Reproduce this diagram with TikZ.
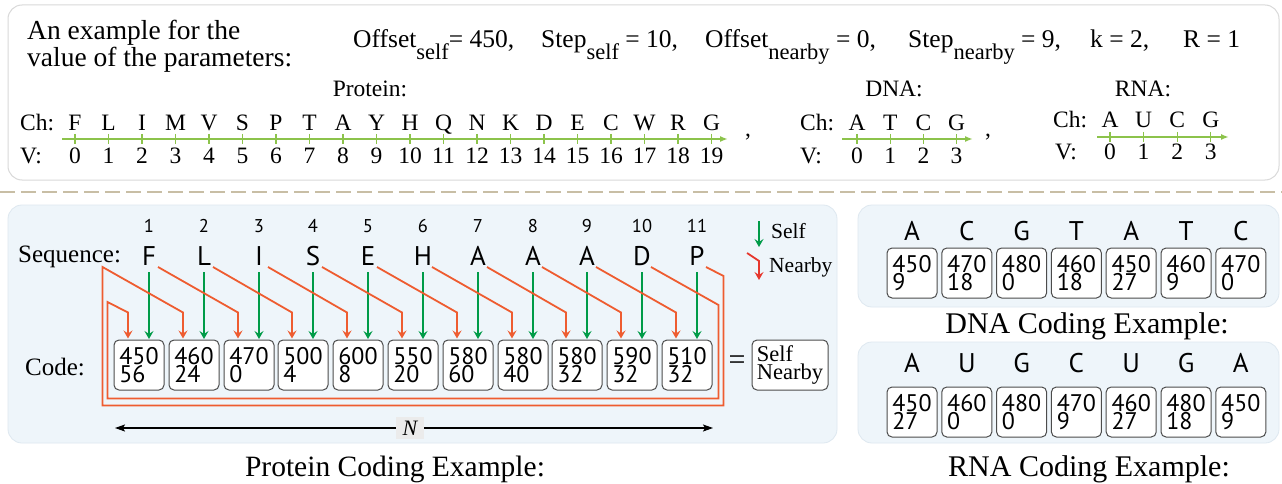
\documentclass[tikz,border=0pt]{standalone}
\usepackage{fontspec}
\setmainfont{Liberation Serif}
\setsansfont{PT Sans}
\usetikzlibrary{arrows.meta,calc}
\newcommand{\myfs}[1]{\fontsize{#1}{#1}\selectfont}
\newcommand{\subt}[1]{\raisebox{-12pt}{\myfs{22.5}#1}}
\definecolor{orng}{RGB}{238,92,48}
\definecolor{grn}{RGB}{0,155,72}
\definecolor{lgrn}{RGB}{140,195,75}
\definecolor{lred}{RGB}{230,55,45}
\definecolor{panelblue}{RGB}{238,245,250}
\definecolor{panelline}{RGB}{222,232,240}
\definecolor{tanc}{RGB}{200,190,165}
\begin{document}
\begin{tikzpicture}[x=1pt,y=-1pt,
  txt/.style={anchor=base west, inner sep=0pt},
  ctxt/.style={anchor=base, inner sep=0pt},
  axisline/.style={draw=lgrn, line width=1.6pt, -{Latex[length=8pt,width=6pt]}},
  tickline/.style={draw=lgrn, line width=1.1pt},
  codebox/.style={draw=black!70, line width=1pt, rounded corners=5pt, fill=white,
    minimum width=50pt, minimum height=50pt, inner sep=0pt, align=left,
    font={\sffamily\fontsize{24}{18.5}\selectfont}},
  snbox/.style={draw=black!70, line width=1pt, rounded corners=5pt, fill=white,
    minimum width=76pt, minimum height=50pt, inner sep=0pt, align=left,
    font={\fontsize{22.5}{18}\selectfont}},
  selfarr/.style={draw=grn, line width=1.8pt, -{Stealth[length=8pt,width=9pt,inset=3pt]}},
  nbarr/.style={draw=orng, line width=1.8pt, -{Stealth[length=8pt,width=9pt,inset=3pt]}},
  redarr/.style={draw=lred, line width=1.8pt, -{Stealth[length=8pt,width=9pt,inset=3pt]}},
  panel/.style={fill=panelblue, draw=panelline, line width=0.8pt, rounded corners=14pt},
  seqfont/.style={font={\sffamily\myfs{27}}},
]
\useasboundingbox (0,0) rectangle (1282,484);
\fill[white] (0,0) rectangle (1282,484);

% ---------- top panel ----------
\draw[draw=black!15, line width=1pt, fill=white, rounded corners=14pt] (8,5) rectangle (1279,180);
\node[txt] (t1) at (27,40) {\myfs{27.5}An example for the};
\node[txt] (t2) at (27,67) {\myfs{27.5}value of the parameters:};

\node[txt] (p1) at (353,48) {\myfs{25.5}Offset\subt{self}= 450,};
\node[txt] (p2) at (541,48) {\myfs{25.5}Step\subt{self} = 10,};
\node[txt] (p3) at (705,48) {\myfs{25.5}Offset\subt{nearby} = 0,};
\node[txt] (p4) at (908,48) {\myfs{25.5}Step\subt{nearby} = 9,};
\node[txt] (p5) at (1090,48) {\myfs{25.5}k = 2,};
\node[txt] (p6) at (1183,48) {\myfs{25.5}R = 1};

% protein alphabet
\node[ctxt] (protl) at (370,97) {\myfs{23.5}Protein:};
\node[txt] (chP) at (20,131) {\myfs{23.5}Ch:};
\node[txt] (vP) at (20,163) {\myfs{23.5}V:};
\coordinate (pa0) at (62,139);
\coordinate (pa1) at (728,139);
\draw[axisline] (pa0) -- (pa1);
\foreach \c [count=\k from 0] in {F,L,I,M,V,S,P,T,A,Y,H,Q,N,K,D,E,C,W,R,G} {
  \node[ctxt, font={\myfs{23.5}}] (pc\k) at ({75+33.5*\k},131) {\c};
  \node[ctxt, font={\myfs{23.5}}] (pv\k) at ({75+33.5*\k},163) {\k};
  \draw[tickline] ($(pv\k |- pa0)+(0,-5)$) -- ($(pv\k |- pa0)+(0,5)$);
}
\node[ctxt] (cm1) at (748,137) {\myfs{23.5},};

% DNA alphabet
\node[ctxt] (dnal) at (894,97) {\myfs{23.5}DNA:};
\node[txt] (chD) at (800,131) {\myfs{23.5}Ch:};
\node[txt] (vD) at (800,163) {\myfs{23.5}V:};
\coordinate (da0) at (842,139);
\coordinate (da1) at (973,139);
\draw[axisline] (da0) -- (da1);
\foreach \c [count=\k from 0] in {A,T,C,G} {
  \node[ctxt, font={\myfs{23.5}}] (dc\k) at ({857+33.2*\k},131) {\c};
  \node[ctxt, font={\myfs{23.5}}] (dv\k) at ({857+33.2*\k},163) {\k};
  \draw[tickline] ($(dv\k |- da0)+(0,-5)$) -- ($(dv\k |- da0)+(0,5)$);
}
\node[ctxt] (cm2) at (988,137) {\myfs{23.5},};

% RNA alphabet
\node[ctxt] (rnal) at (1143,97) {\myfs{23.5}RNA:};
\node[txt] (chR) at (1053,128) {\myfs{23.5}Ch:};
\node[txt] (vR) at (1055,160) {\myfs{23.5}V:};
\coordinate (ra0) at (1097,137);
\coordinate (ra1) at (1229,137);
\draw[axisline] (ra0) -- (ra1);
\foreach \c [count=\k from 0] in {A,U,C,G} {
  \node[ctxt, font={\myfs{23.5}}] (rc\k) at ({1110+33.6*\k},128) {\c};
  \node[ctxt, font={\myfs{23.5}}] (rv\k) at ({1110+33.6*\k},160) {\k};
  \draw[tickline] ($(rv\k |- ra0)+(0,-5)$) -- ($(rv\k |- ra0)+(0,5)$);
}

% separator
\coordinate (sep0) at (0,192);
\coordinate (sep1) at (1282,192);
\draw[draw=tanc, line width=2pt, dash pattern=on 15pt off 6pt] (sep0) -- (sep1);

% ---------- protein panel ----------
\draw[panel] (8,205) rectangle (837,443);
\node[txt] (seq) at (18,262) {\myfs{25}Sequence:};
\node[txt] (code) at (25,375) {\myfs{25}Code:};

\foreach \c [count=\k] in {F,L,I,S,E,H,A,A,A,D,P} {
  \pgfmathtruncatemacro{\xx}{round(149+54.8*(\k-1))}
  \node[ctxt, font={\sffamily\myfs{18.5}}] (n\k) at (\xx,232) {\k};
  \node[ctxt, seqfont] (s\k) at (\xx,265) {\c};
  \coordinate (st\k) at (\xx,272);
  \coordinate (se\k) at (\xx,339);
}
\foreach \a/\b [count=\k] in {450/56,460/24,470/0,500/4,600/8,550/20,580/60,580/40,580/32,590/32,510/32} {
  \pgfmathtruncatemacro{\bx}{round(139+54.8*(\k-1))}
  \node[codebox] (b\k) at (\bx,365) {\a\\\b};
}
% self arrows
\foreach \k in {1,...,11} {
  \draw[selfarr] (st\k) -- (se\k);
}
% nearby arrows
\foreach \k [evaluate=\k as \j using int(\k-2)] in {3,...,11} {
  \draw[nbarr] ($(s\j.base)+(9,2)$) -- ($(b\k.north)+(-11,-27)$) -- ($(b\k.north)+(-11,-1)$);
}
% wrap-around (outer: P -> box 2)
\draw[nbarr] ($(s11.base)+(9,2)$) -- ($(b11.east)+(11,-89)$) -- ($(b11.south east)+(11,15)$)
  -- ($(b1.south west)+(-11,15)$) -- ($(b1.west)+(-11,-98)$) -- ($(b2.north)+(-11,-27)$) -- ($(b2.north)+(-11,-1)$);
% wrap-around (inner: D -> box 1)
\draw[nbarr] ($(s10.base)+(9,2)$) -- ($(b11.east)+(6,-60)$) -- ($(b11.south east)+(6,8)$)
  -- ($(b1.south west)+(-6,8)$) -- ($(b1.west)+(-6,-63)$) -- ($(b1.north)+(-11,-27)$) -- ($(b1.north)+(-11,-1)$);

% legend
\coordinate (ls0) at (759,221);
\coordinate (ls1) at (759,247);
\draw[selfarr] (ls0) -- (ls1);
\node[txt] (lself) at (771,238) {\myfs{21.5}Self};
\coordinate (ln0) at (747,253);
\coordinate (ln1) at (759,261);
\coordinate (ln2) at (759,280);
\draw[redarr] (ln0) -- (ln1) -- (ln2);
\node[txt] (lnb) at (769,272) {\myfs{21.5}Nearby};

% equals and legend box
\node (eq) at (737,363) {\myfs{30}=};
\node[snbox] (sn) at (790,365) {Self\\Nearby};

% N arrow
\coordinate (nL) at (115,428);
\coordinate (nR) at (713,428);
\draw[line width=1.2pt, {Stealth[length=10pt,width=7pt,inset=2pt]}-{Stealth[length=10pt,width=7pt,inset=2pt]}] (nL) -- (nR);
\node[fill=black!8, inner xsep=7pt, inner ysep=4pt] (nlab) at (410,428) {\myfs{22}\itshape N};

\node[ctxt] (cap1) at (395,476) {\myfs{29.5}Protein Coding Example:};

% ---------- DNA panel ----------
\draw[panel] (858,205) rectangle (1279,307);
\foreach \c [count=\k] in {A,C,G,T,A,T,C} {
  \node[ctxt, seqfont] (dl\k) at ({912+54.8*(\k-1)},240) {\c};
}
\foreach \a/\b [count=\k] in {450/9,470/18,480/0,460/18,450/27,460/9,470/0} {
  \node[codebox] (db\k) at ({912+54.8*(\k-1)},273) {\a\\\b};
}
\node[ctxt] (cap2) at (1087,333) {\myfs{30}DNA Coding Example:};

% ---------- RNA panel ----------
\draw[panel] (858,342) rectangle (1279,443);
\foreach \c [count=\k] in {A,U,G,C,U,G,A} {
  \node[ctxt, seqfont] (rl\k) at ({912+54.8*(\k-1)},372) {\c};
}
\foreach \a/\b [count=\k] in {450/27,460/0,480/0,470/9,460/27,480/18,450/9} {
  \node[codebox] (rb\k) at ({912+54.8*(\k-1)},412) {\a\\\b};
}
\node[ctxt] (cap3) at (1089,476) {\myfs{30}RNA Coding Example:};
\end{tikzpicture}
\end{document}
